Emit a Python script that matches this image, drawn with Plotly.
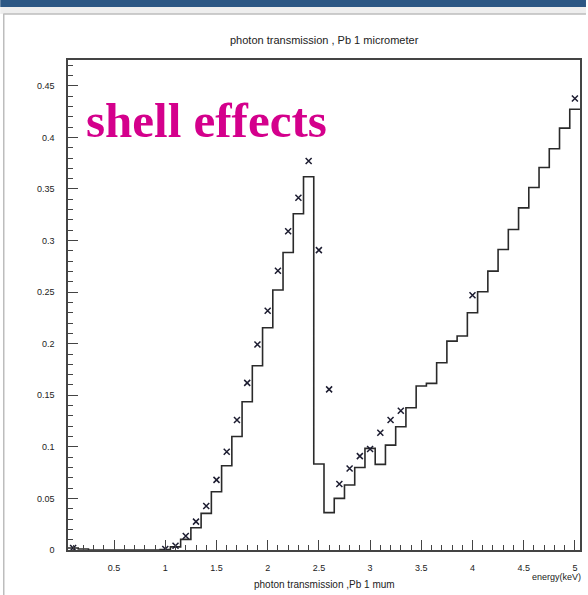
import plotly.graph_objects as go

# ---------------- data ----------------
bin_centers = [round(0.1 * i, 1) for i in range(1, 51)]
hist_values = [
    0.002, 0.001, 0.0, 0.0, 0.0, 0.0, 0.0, 0.0, 0.0, 0.0005,      # 0.1 - 1.0
    0.003, 0.0103, 0.0216, 0.0355, 0.0565, 0.0817, 0.110, 0.1437, 0.1786, 0.2154,  # 1.1 - 2.0
    0.252, 0.2884, 0.326, 0.3618, 0.0833, 0.0362, 0.050, 0.063, 0.080, 0.0985,     # 2.1 - 3.0
    0.083, 0.1017, 0.1195, 0.1379, 0.159, 0.1615, 0.1815, 0.2025, 0.2074, 0.230,   # 3.1 - 4.0
    0.2503, 0.2703, 0.2913, 0.3107, 0.3317, 0.3514, 0.3708, 0.389, 0.409, 0.4273,  # 4.1 - 5.0
]
bin_width = 0.1

marker_x = [0.1, 1.0, 1.1, 1.2, 1.3, 1.4, 1.5, 1.6, 1.7, 1.8, 1.9, 2.0, 2.1, 2.2, 2.3, 2.4,
            2.5, 2.6, 2.7, 2.8, 2.9, 3.0, 3.1, 3.2, 3.3, 4.0, 5.0]
marker_y = [0.002, 0.001, 0.0042, 0.0136, 0.0275, 0.0426, 0.068, 0.0953, 0.126, 0.162, 0.1993,
            0.232, 0.2707, 0.309, 0.3414, 0.377, 0.2907, 0.1557, 0.064, 0.079, 0.091, 0.098,
            0.1137, 0.126, 0.135, 0.247, 0.4377]

x_tick_vals = [0.5, 1, 1.5, 2, 2.5, 3, 3.5, 4, 4.5, 5]
x_tick_text = ["0.5", "1", "1.5", "2", "2.5", "3", "3.5", "4", "4.5", "5"]
y_tick_vals = [0, 0.05, 0.1, 0.15, 0.2, 0.25, 0.3, 0.35, 0.4, 0.45]
y_tick_text = ["0", "0.05", "0.1", "0.15", "0.2", "0.25", "0.3", "0.35", "0.4", "0.45"]

title_text = "photon transmission , Pb 1 micrometer"
xaxis_title = "photon transmission ,Pb 1 mum"
xaxis_unit = "energy(keV)"
overlay_text = "shell effects"

# step outline built from bin edges
edges = [round(c - bin_width / 2, 3) for c in bin_centers] + [round(bin_centers[-1] + bin_width / 2, 3)]
step_y = hist_values + [hist_values[-1]]

fig = go.Figure()
fig.add_trace(go.Scatter(
    x=edges, y=step_y, mode="lines", line_shape="hv",
    line=dict(color="#2a2a2a", width=1.6), hoverinfo="skip"))
fig.add_trace(go.Scatter(
    x=marker_x, y=marker_y, mode="markers",
    marker=dict(symbol="x-thin", size=6, color="#1c1c30",
                line=dict(width=1.5, color="#1c1c30"))))

tick_font = dict(family="Liberation Sans, Arial, sans-serif", size=9, color="#222222")

fig.update_layout(
    width=588, height=595,
    margin=dict(l=68, r=6, t=60, b=45),
    paper_bgcolor="white", plot_bgcolor="white",
    showlegend=False,
    xaxis=dict(range=[0.05, 5.05], showgrid=False, zeroline=False,
               showline=True, linecolor="#444444", linewidth=1.5, mirror=True,
               ticks="inside", ticklen=10, tickwidth=1.3, tickcolor="#444444",
               tickvals=x_tick_vals, ticktext=x_tick_text, tickfont=tick_font,
               ticklabelstandoff=8,
               minor=dict(dtick=0.1, tick0=0, ticks="inside", ticklen=5,
                          tickwidth=1.2, tickcolor="#444444", showgrid=False)),
    yaxis=dict(range=[0, 0.475], showgrid=False, zeroline=False,
               showline=True, linecolor="#444444", linewidth=1.5, mirror=True,
               ticks="inside", ticklen=10, tickwidth=1.3, tickcolor="#444444",
               tickvals=y_tick_vals, ticktext=y_tick_text, tickfont=tick_font,
               ticklabelstandoff=10,
               minor=dict(dtick=0.01, tick0=0, ticks="inside", ticklen=5,
                          tickwidth=1.2, tickcolor="#444444", showgrid=False)),
)

# page decoration (blue bar, canvas border)
W, H = 588, 595
L, R, T, B = 68, 582, 60, 550
def px(x):
    return (x - L) / (R - L)
def py(y):
    return (B - y) / (B - T)

fig.add_shape(type="rect", xref="paper", yref="paper", x0=px(0), x1=px(W), y0=py(7), y1=py(0),
              fillcolor="#2c5784", line=dict(width=0), layer="above")
fig.add_shape(type="rect", xref="paper", yref="paper", x0=px(0), x1=px(W), y0=py(14), y1=py(7),
              fillcolor="#eeeeee", line=dict(width=0), layer="above")
fig.add_shape(type="line", xref="paper", yref="paper", x0=px(3), x1=px(W), y0=py(14), y1=py(14),
              line=dict(color="#bdbdbd", width=1.5), layer="above")
fig.add_shape(type="line", xref="paper", yref="paper", x0=px(3.5), x1=px(3.5), y0=py(14), y1=py(H),
              line=dict(color="#bdbdbd", width=1.5), layer="above")

label_font = dict(family="Liberation Sans, Arial, sans-serif", size=11, color="#222222")
fig.add_annotation(text=title_text, xref="paper", yref="paper", x=px(325), y=py(40),
                   xanchor="center", yanchor="middle", showarrow=False, font=label_font)
fig.add_annotation(text=xaxis_title, xref="paper", yref="paper", x=px(326), y=py(584),
                   xanchor="center", yanchor="middle", showarrow=False, font=dict(label_font, size=10))
fig.add_annotation(text=xaxis_unit, xref="paper", yref="paper", x=px(585), y=py(577),
                   xanchor="right", yanchor="middle", showarrow=False, font=dict(label_font, size=9))
fig.add_annotation(text="<b>" + overlay_text + "</b>", xref="paper", yref="paper", x=px(84), y=py(120),
                   xanchor="left", yanchor="middle", showarrow=False,
                   font=dict(family="Liberation Serif, Times New Roman, serif", size=49, color="#d4008c"))

fig.write_html("out.html", config={"displayModeBar": False},
               post_script="document.body.style.margin='0';document.body.style.overflow='hidden';")
